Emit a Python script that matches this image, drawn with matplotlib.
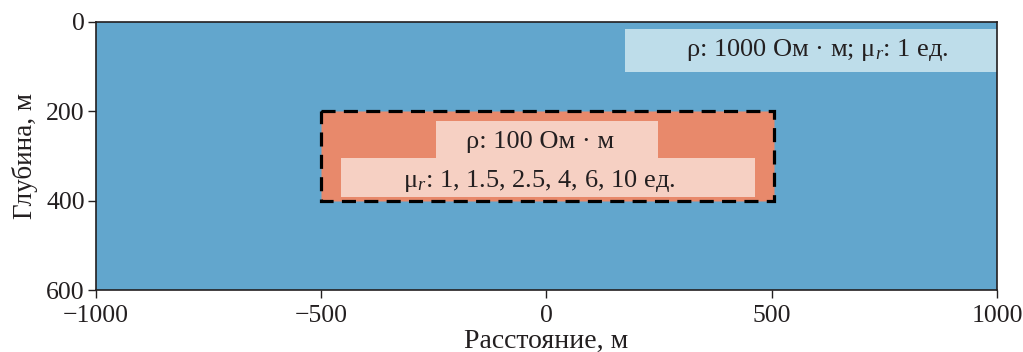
import matplotlib
matplotlib.use("Agg")
import matplotlib.pyplot as plt
from matplotlib.patches import Rectangle

plt.rcParams['font.family'] = ['Liberation Serif', 'DejaVu Serif']
plt.rcParams['mathtext.fontset'] = 'custom'
plt.rcParams['mathtext.rm'] = 'Liberation Serif'
plt.rcParams['mathtext.it'] = 'Liberation Serif:italic'

# ---- data ----
x_range = [-1000, 1000]          # distance, m
depth_range = [0, 600]           # depth, m
anomaly_x = [-500, 505]          # anomaly horizontal extent, m
anomaly_depth = [200, 400]       # anomaly depth extent, m
x_ticks = [-1000, -500, 0, 500, 1000]
y_ticks = [0, 200, 400, 600]
x_ticklabels = ['\u22121000', '\u2212500', '0', '500', '1000']
host_label = 'ρ: 1000 Ом · м; μ$_r$: 1 ед.'
anom_label1 = 'ρ: 100 Ом · м'
anom_label2 = 'μ$_r$: 1, 1.5, 2.5, 4, 6, 10 ед.'

# ---- colors ----
c_host = '#62A6CD'
c_anom = '#E8896B'
c_host_box = '#BEDDEA'
c_anom_box = '#F6D0C3'
c_text = '#231F20'

fig = plt.figure(figsize=(10.23, 3.52), dpi=100)
ax = fig.add_axes([0.0938, 0.176, 0.9746 - 0.0938, 0.9375 - 0.176])

ax.add_patch(Rectangle((x_range[0], depth_range[0]), x_range[1] - x_range[0],
                       depth_range[1] - depth_range[0], facecolor=c_host,
                       edgecolor='none', zorder=0))
ax.add_patch(Rectangle((anomaly_x[0], anomaly_depth[0]), anomaly_x[1] - anomaly_x[0],
                       anomaly_depth[1] - anomaly_depth[0], facecolor=c_anom,
                       edgecolor='black', lw=2.3, linestyle=(0, (4.4, 2.6)), zorder=2))

# label backgrounds (layout)
ax.add_patch(Rectangle((174, 16), 826, 96, facecolor=c_host_box, edgecolor='none', zorder=3))
ax.add_patch(Rectangle((-245, 221), 492, 84, facecolor=c_anom_box, edgecolor='none', zorder=3))
ax.add_patch(Rectangle((-456, 304), 919, 87, facecolor=c_anom_box, edgecolor='none', zorder=3))

fs_in = 19
ax.text(602, 63, host_label, ha='center', va='center', fontsize=fs_in, color=c_text, zorder=4)
ax.text(-14, 268, anom_label1, ha='center', va='center', fontsize=fs_in, color=c_text, zorder=4)
ax.text(-15, 356, anom_label2, ha='center', va='center', fontsize=fs_in, color=c_text, zorder=4)

ax.set_xlim(x_range)
ax.set_ylim(depth_range[1], depth_range[0])
ax.set_xticks(x_ticks)
ax.set_xticklabels(x_ticklabels)
ax.set_yticks(y_ticks)
ax.tick_params(axis='both', direction='out', length=6, width=1, labelsize=18.5,
               colors=c_text, pad=2)
ax.tick_params(axis='x', pad=5)
for s in ax.spines.values():
    s.set_linewidth(1.2)
    s.set_color(c_text)
    s.set_zorder(5)

ax.set_xlabel('Расстояние, м', fontsize=20, color=c_text, labelpad=1)
ax.set_ylabel('Глубина, м', fontsize=19.5, color=c_text, labelpad=6)

fig.savefig('out.png', dpi=100)
